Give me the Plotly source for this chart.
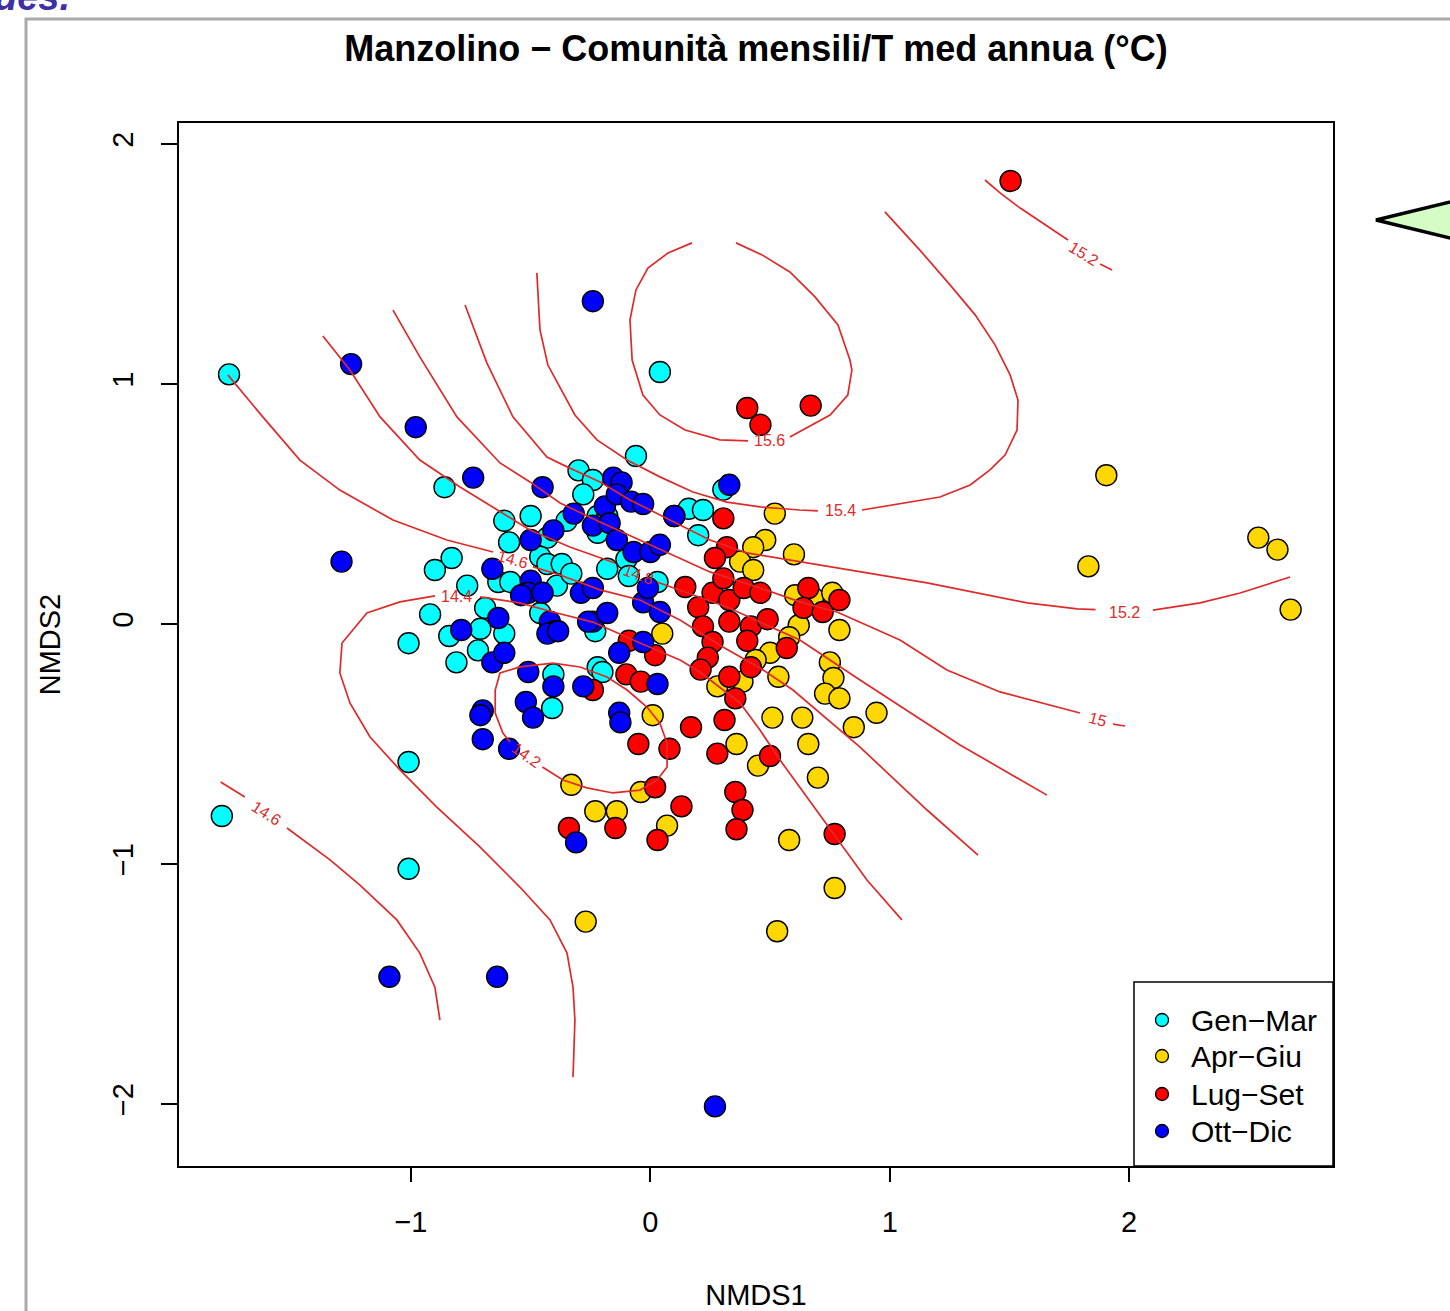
import plotly.graph_objects as go

# ---------------- data (NMDS scores) ----------------
gm_x = [-1.76, 0.04, -0.06, -0.86, -0.30, -0.24, -0.28, -0.22, -0.18, -0.22, -0.35, -0.50, -0.61, -0.59,
        -0.43, -0.46, -0.43, -0.37, -0.39, -0.33, -0.18, -0.10, -0.09, 0.03, -0.83, -0.90, -0.765, -0.635,
        -0.585, -0.69, -0.46, -0.92, -0.84, -0.71, -0.61, -0.72, -0.81, -1.01, -0.23, -0.22, -0.20, -0.405,
        -0.41, -1.01, -1.01, -1.79, 0.16, 0.22, 0.20, 0.305, 0.10]
gm_y = [1.04, 1.05, 0.70, 0.57, 0.64, 0.60, 0.54, 0.45, 0.45, 0.38, 0.43, 0.45, 0.43, 0.34,
        0.36, 0.28, 0.25, 0.25, 0.16, 0.21, 0.23, 0.27, 0.20, 0.175, 0.275, 0.225, 0.16, 0.175,
        0.175, 0.067, 0.046, 0.04, -0.05, -0.02, -0.04, -0.11, -0.16, -0.08, -0.03, -0.18, -0.20, -0.21,
        -0.35, -0.575, -1.02, -0.80, 0.48, 0.475, 0.37, 0.56, 0.45]

ag_x = [1.905, 1.83, 2.54, 2.62, 2.675, 0.52, 0.48, 0.43, 0.375, 0.43, 0.60, 0.605, 0.68, 0.76, 0.62,
        0.58, 0.79, 0.75, 0.765, 0.73, 0.79, 0.945, 0.85, 0.50, 0.44, 0.535, 0.385, 0.28, 0.51, 0.635,
        0.66, 0.36, 0.45, 0.70, 0.05, 0.01, 0.58, 0.77, 0.53, -0.27, -0.33, -0.23, -0.14, -0.04, 0.07]
ag_y = [0.62, 0.24, 0.36, 0.31, 0.06, 0.46, 0.35, 0.32, 0.26, 0.225, 0.29, 0.12, 0.11, 0.13, -0.005,
        -0.055, -0.025, -0.16, -0.225, -0.29, -0.31, -0.37, -0.43, -0.12, -0.15, -0.22, -0.24, -0.26, -0.39, -0.39,
        -0.50, -0.50, -0.59, -0.64, -0.04, -0.38, -0.90, -1.10, -1.28, -1.24, -0.67, -0.78, -0.78, -0.70, -0.84]

ls_x = [1.505, 0.405, 0.46, 0.67, 0.305, 0.32, 0.27, 0.146, 0.26, 0.20, 0.33, 0.39, 0.46, 0.305, 0.66,
        0.64, 0.72, 0.79, 0.33, 0.42, 0.49, 0.405, 0.22, 0.26, 0.57, 0.24, 0.21, 0.42, 0.33, 0.355,
        0.02, -0.09, -0.10, -0.04, -0.24, 0.17, 0.31, 0.28, 0.08, -0.05, 0.50, 0.02, 0.355, 0.385, 0.36,
        0.13, 0.03, 0.77, -0.146, -0.34]
ls_y = [1.846, 0.90, 0.83, 0.91, 0.44, 0.32, 0.275, 0.154, 0.13, 0.07, 0.10, 0.15, 0.13, 0.19, 0.15,
        0.067, 0.05, 0.10, 0.01, -0.01, 0.02, -0.07, -0.01, -0.075, -0.10, -0.14, -0.19, -0.18, -0.22, -0.31,
        -0.13, -0.07, -0.21, -0.24, -0.275, -0.43, -0.40, -0.54, -0.52, -0.50, -0.55, -0.68, -0.70, -0.775, -0.855,
        -0.76, -0.90, -0.875, -0.85, -0.85]

od_x = [-0.24, -1.25, -0.98, -0.74, -0.45, -1.29, 0.27, -1.09, -0.64, -0.31, -0.155, -0.12, -0.19, -0.14,
        -0.08, -0.03, -0.32, -0.24, -0.17, -0.405, -0.50, -0.14, -0.07, 0.0, 0.04, 0.10, 0.33, -0.66,
        -0.50, -0.51, -0.45, -0.54, -0.29, -0.24, -0.635, -0.42, -0.40, -0.24, -0.03, -0.01, 0.04, -0.18,
        -0.26, -0.79, -0.66, -0.61, -0.51, -0.405, -0.28, -0.52, -0.49, -0.70, -0.71, -0.70, -0.59, -0.13,
        -0.125, 0.03, -0.13, -0.43, -0.385, -0.03]
od_y = [1.345, 1.083, 0.82, 0.61, 0.57, 0.26, -2.01, -1.47, -1.47, -0.91, 0.61, 0.59, 0.49, 0.54,
        0.51, 0.50, 0.46, 0.41, 0.42, 0.39, 0.35, 0.35, 0.30, 0.30, 0.33, 0.45, 0.58, 0.23,
        0.18, 0.13, 0.13, 0.12, 0.13, 0.15, 0.025, 0.01, -0.03, 0.01, 0.09, 0.15, 0.05, 0.046,
        0.01, -0.025, -0.16, -0.12, -0.20, -0.26, -0.26, -0.325, -0.39, -0.36, -0.38, -0.48, -0.52, -0.37,
        -0.41, -0.25, -0.12, -0.04, -0.03, -0.075]

group_names = ["Gen−Mar", "Apr−Giu", "Lug−Set", "Ott−Dic"]
group_colors = ["#00FFFF", "#FFD700", "#FF0000", "#0000FF"]

# ---------------- fitted surface contours (T med annua) ----------------
c156_x = [0.358, 0.467, 0.583, 0.688, 0.784, 0.834, 0.842, 0.825, 0.751, 0.625, 0.583, None,
          0.408, 0.291, 0.145, 0.040, -0.031, -0.076, -0.085, -0.060, -0.010, 0.074, 0.174]
c156_y = [1.588, 1.538, 1.467, 1.363, 1.246, 1.100, 1.058, 0.954, 0.871, 0.800, 0.779, None,
          0.763, 0.767, 0.808, 0.871, 0.954, 1.100, 1.267, 1.392, 1.483, 1.546, 1.588]

c154_x = [-0.474, -0.469, -0.461, -0.428, -0.377, -0.315, -0.223, -0.097, 0.040, 0.178, 0.320, 0.458,
          0.625, 0.700, None, 0.884, 0.959, 1.064, 1.210, 1.336, 1.419, 1.482, 1.532, 1.536, 1.503,
          1.440, 1.357, 1.252, 1.126, 0.980]
c154_y = [1.463, 1.350, 1.225, 1.079, 0.988, 0.871, 0.767, 0.683, 0.613, 0.550, 0.508, 0.488,
          0.475, 0.471, None, 0.475, 0.488, 0.504, 0.529, 0.579, 0.642, 0.704, 0.808, 0.933, 1.038,
          1.163, 1.288, 1.413, 1.558, 1.717]

c152a_x = [1.398, 1.461, 1.545, 1.670, 1.745, None, 1.879, 1.929]
c152a_y = [1.850, 1.796, 1.733, 1.650, 1.600, None, 1.500, 1.475]

c152b_x = [-0.774, -0.683, -0.574, -0.490, -0.432, -0.365, -0.210, -0.085, 0.082, 0.249, 0.404, 0.637,
           1.156, 1.574, 1.783, 1.860, None, 2.100, 2.297, 2.464, 2.589, 2.673]
c152b_y = [1.329, 1.088, 0.863, 0.767, 0.696, 0.663, 0.592, 0.517, 0.433, 0.350, 0.296, 0.258,
           0.171, 0.088, 0.063, 0.060, None, 0.058, 0.088, 0.129, 0.171, 0.196]

c150_x = [-1.075, -0.963, -0.808, -0.720, -0.628, -0.503, -0.377, -0.210, -0.043, 0.111, 0.249, 0.458,
          0.625, 0.780, 1.043, 1.239, 1.461, 1.795, None, 1.933, 1.983]
c150_y = [1.308, 1.113, 0.863, 0.767, 0.671, 0.592, 0.504, 0.425, 0.350, 0.279, 0.217, 0.150,
          0.092, 0.050, -0.067, -0.192, -0.283, -0.371, None, -0.417, -0.425]

c148_x = [-1.368, -1.255, -1.129, -0.963, -0.795, -0.628, -0.503, -0.336, -0.148, None, 0.028, 0.166,
          0.320, 0.458, 0.625, 0.876, 1.294, 1.657]
c148_y = [1.200, 1.058, 0.863, 0.683, 0.571, 0.467, 0.392, 0.321, 0.254, None, 0.175, 0.125,
          0.071, 0.008, -0.067, -0.233, -0.504, -0.713]

c146a_x = [-1.765, -1.619, -1.464, -1.297, -1.075, -0.850, -0.657, None, -0.490, -0.377, -0.210, -0.043,
           0.124, 0.303, 0.458, 0.596, 0.876, 1.156, 1.369]
c146a_y = [1.038, 0.863, 0.683, 0.558, 0.433, 0.350, 0.300, None, 0.238, 0.204, 0.142, 0.100,
           0.017, -0.096, -0.183, -0.275, -0.513, -0.775, -0.963]

c146b_x = [-1.795, -1.694, None, -1.518, -1.338, -1.213, -1.059, -0.963, -0.900, -0.879]
c146b_y = [-0.658, -0.721, None, -0.850, -0.983, -1.088, -1.233, -1.371, -1.513, -1.650]

c144_x = [-0.323, -0.315, -0.323, -0.348, -0.419, -0.545, -0.712, -0.892, -1.046, -1.171, -1.255, -1.297,
          -1.288, -1.184, -1.046, -0.900, None, -0.712, -0.545, -0.407, -0.240, -0.043, 0.124, 0.207,
          0.375, 0.458, 0.542, 0.763, 0.905, 1.051]
c144_y = [-1.888, -1.650, -1.513, -1.371, -1.233, -1.096, -0.929, -0.763, -0.608, -0.471, -0.329, -0.204,
          -0.079, 0.046, 0.092, 0.117, None, 0.113, 0.088, 0.050, 0.008, -0.079, -0.150, -0.200,
          -0.329, -0.442, -0.567, -0.871, -1.067, -1.233]

c142_x = [-0.451, -0.365, -0.265, -0.156, -0.043, 0.028, 0.070, 0.070, 0.040, -0.014, -0.097, -0.181,
          -0.294, -0.407, -0.545, -0.628, -0.648, -0.648, -0.616, -0.586]
c142_y = [-0.596, -0.650, -0.683, -0.704, -0.692, -0.650, -0.596, -0.496, -0.413, -0.346, -0.275, -0.221,
          -0.179, -0.163, -0.179, -0.204, -0.275, -0.371, -0.454, -0.492]

lab_text = ["15.6", "15.4", "15.2", "15.2", "15", "14.8", "14.6", "14.4", "14.2", "14.6"]
lab_x = [0.496, 0.793, 1.983, 1.808, 1.870, -0.051, -0.574, -0.808, -0.516, -1.602]
lab_y = [0.763, 0.475, 0.050, 1.542, -0.396, 0.208, 0.267, 0.113, -0.546, -0.788]
lab_angle = [0, 0, 0, 32, 15, 20, 16, 0, 35, 33]

x_ticks = [-1, 0, 1, 2]
y_ticks = [-2, -1, 0, 1, 2]

# ---------------- figure ----------------
W, H = 1450, 1311
L, R, T, B = 179, 1333, 123, 1166
FONT = "Liberation Sans, Arial, Helvetica, sans-serif"
CONT = "#DE2A2A"


def pxx(p):
    return (p - L) / (R - L)


def pxy(p):
    return (B - p) / (B - T)


fig = go.Figure()
for name, xs, ys, col in zip(group_names, [gm_x, ag_x, ls_x, od_x], [gm_y, ag_y, ls_y, od_y], group_colors):
    fig.add_trace(go.Scatter(x=xs, y=ys, mode="markers", name=name, showlegend=False,
                             marker=dict(size=21, color=col, line=dict(color="black", width=1.4))))

for xs, ys in [(c156_x, c156_y), (c154_x, c154_y), (c152a_x, c152a_y), (c152b_x, c152b_y),
               (c150_x, c150_y), (c148_x, c148_y), (c146a_x, c146a_y), (c146b_x, c146b_y),
               (c144_x, c144_y), (c142_x, c142_y)]:
    fig.add_trace(go.Scatter(x=xs, y=ys, mode="lines", showlegend=False, hoverinfo="skip",
                             line=dict(color=CONT, width=1.7), connectgaps=False))

annotations = []
for t, x, y, a in zip(lab_text, lab_x, lab_y, lab_angle):
    annotations.append(dict(x=x, y=y, xref="x", yref="y", text=t, showarrow=False, textangle=a,
                            font=dict(family=FONT, size=16, color=CONT)))

# legend (drawn like R's legend box)
shapes = [dict(type="rect", xref="paper", yref="paper", x0=pxx(1134), x1=pxx(1333), y0=pxy(1166), y1=pxy(982),
               line=dict(color="black", width=1.5), fillcolor="white", layer="above")]
leg_rows = [1020, 1056, 1094, 1131]
for name, col, ry in zip(group_names, group_colors, leg_rows):
    shapes.append(dict(type="circle", xref="paper", yref="paper", x0=pxx(1155.5), x1=pxx(1168.5),
                       y0=pxy(ry + 6.5), y1=pxy(ry - 6.5), fillcolor=col, line=dict(color="black", width=1.3),
                       layer="above"))
    annotations.append(dict(x=pxx(1189), y=pxy(ry), xref="paper", yref="paper", text=name, showarrow=False,
                            xanchor="left", yanchor="middle", font=dict(family=FONT, size=30, color="black")))

# screenshot surroundings: gray frame, green pointer, cut-off heading
shapes.append(dict(type="rect", xref="paper", yref="paper", x0=pxx(26), x1=pxx(1480), y0=pxy(1340), y1=pxy(19),
                   line=dict(color="#AAAAAA", width=3), fillcolor="rgba(0,0,0,0)", layer="below"))
shapes.append(dict(type="path", xref="paper", yref="paper",
                   path=f"M {pxx(1376)},{pxy(220)} L {pxx(1475)},{pxy(196)} L {pxx(1475)},{pxy(244)} Z",
                   fillcolor="#D4FCC4", line=dict(color="black", width=3.5), layer="above"))
annotations.append(dict(x=pxx(72), y=pxy(-3), xref="paper", yref="paper", text="<b><i>ues.</i></b>",
                        showarrow=False, xanchor="right", yanchor="middle",
                        font=dict(family=FONT, size=38, color="#4030A8")))

fig.update_layout(
    width=W, height=H, autosize=False,
    margin=dict(l=L, r=W - R, t=T, b=H - B, pad=0),
    paper_bgcolor="white", plot_bgcolor="white",
    font=dict(family=FONT, color="black"),
    title=dict(text="Manzolino − Comunità mensili/T med annua (°C)", x=0.5, xref="paper",
               y=1 - 48 / H, yref="container", xanchor="center", yanchor="middle",
               font=dict(family=FONT, size=36, weight="bold", color="black")),
    xaxis=dict(range=[-1.969, 2.852], tickvals=x_ticks, ticks="outside", ticklen=14, tickwidth=1.5,
               tickcolor="black", showline=True, mirror=True, linecolor="black", linewidth=1.5,
               showgrid=False, zeroline=False, tickfont=dict(size=29), ticklabelstandoff=15,
               title=dict(text="NMDS1", font=dict(size=29), standoff=50), automargin=False),
    yaxis=dict(range=[-2.2583, 2.0875], tickvals=y_ticks, ticks="outside", ticklen=16, tickwidth=1.5,
               tickcolor="black", showline=True, mirror=True, linecolor="black", linewidth=1.5,
               showgrid=False, zeroline=False, tickfont=dict(size=29), tickangle=-90, ticklabelstandoff=17,
               title=dict(text="NMDS2", font=dict(size=29), standoff=38), automargin=False),
    annotations=annotations, shapes=shapes,
)

fig.write_html("out.html")
